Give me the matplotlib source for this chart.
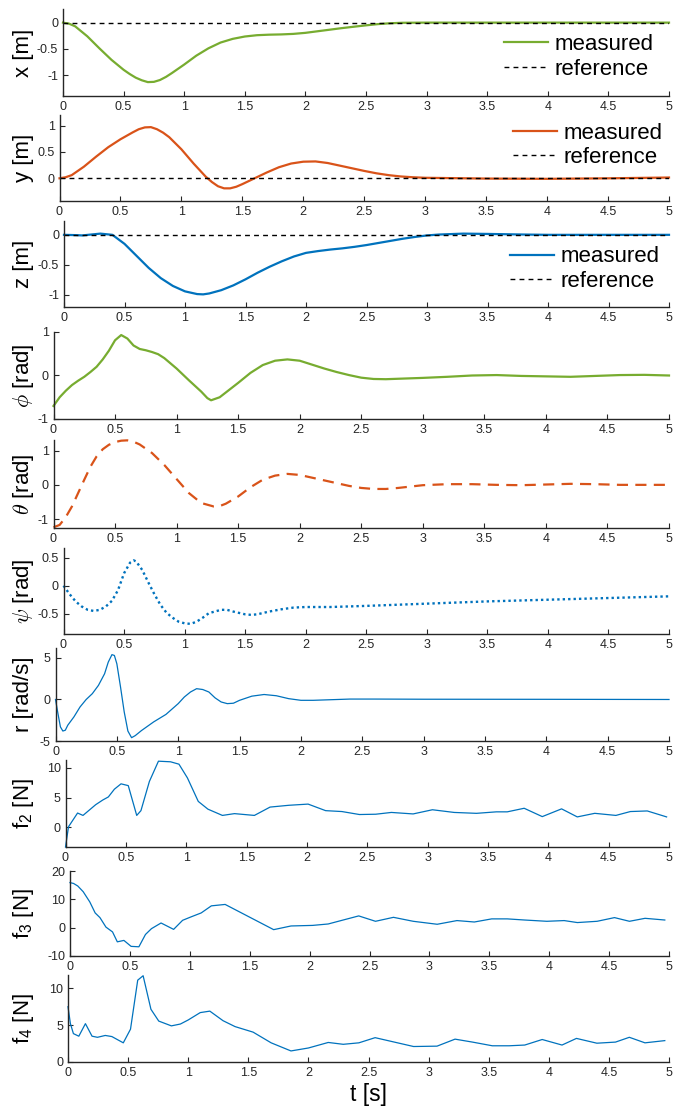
import matplotlib
matplotlib.use("Agg")
import matplotlib.pyplot as plt
import matplotlib.transforms as mtransforms
from matplotlib.ticker import FormatStrFormatter, MultipleLocator

plt.rcParams["font.family"] = ["Liberation Sans", "DejaVu Sans"]
plt.rcParams["axes.unicode_minus"] = False
plt.rcParams["mathtext.fontset"] = "custom"
plt.rcParams["mathtext.rm"] = "Liberation Sans"
plt.rcParams["mathtext.it"] = "Liberation Sans:italic"

GREEN = "#77AC30"
ORANGE = "#D95319"
BLUE = "#0072BD"
AX_COLOR = "#262626"

# reference trajectories (all zero)
ref_t = [0, 5]
ref_val = [0, 0]

# position x [m]
x_t = [0, 0.05, 0.1, 0.2, 0.3, 0.4, 0.5, 0.55, 0.6, 0.65, 0.7, 0.75, 0.8, 0.85,
       0.9, 1.0, 1.1, 1.2, 1.3, 1.4, 1.5, 1.6, 1.7, 1.8, 1.9, 2.0, 2.1, 2.2, 2.3,
       2.4, 2.5, 2.6, 2.7, 2.8, 3.0, 3.5, 4.0, 4.5, 5.0]
x_val = [0, -0.02, -0.07, -0.26, -0.49, -0.71, -0.9, -0.98, -1.05, -1.1, -1.135,
         -1.13, -1.095, -1.035, -0.96, -0.8, -0.63, -0.49, -0.38, -0.31, -0.265,
         -0.24, -0.23, -0.225, -0.215, -0.195, -0.165, -0.135, -0.105, -0.078,
         -0.052, -0.028, -0.012, -0.003, 0.0, 0.0, 0.0, 0.0, 0.0]

# position y [m]
y_t = [0, 0.05, 0.1, 0.2, 0.3, 0.4, 0.5, 0.6, 0.65, 0.7, 0.75, 0.8, 0.85, 0.9,
       1.0, 1.1, 1.2, 1.25, 1.3, 1.35, 1.4, 1.45, 1.5, 1.6, 1.7, 1.8, 1.9, 2.0,
       2.1, 2.2, 2.3, 2.4, 2.5, 2.6, 2.7, 2.8, 2.9, 3.0, 3.5, 4.0, 4.5, 5.0]
y_val = [0, 0.02, 0.06, 0.22, 0.41, 0.59, 0.74, 0.87, 0.93, 0.965, 0.97, 0.93,
         0.865, 0.78, 0.55, 0.28, 0.03, -0.07, -0.15, -0.19, -0.19, -0.16, -0.11,
         0.0, 0.11, 0.21, 0.28, 0.315, 0.32, 0.29, 0.24, 0.19, 0.14, 0.095, 0.06,
         0.035, 0.02, 0.01, -0.005, -0.01, 0.0, 0.015]

# position z [m]
z_t = [0, 0.1, 0.15, 0.2, 0.3, 0.4, 0.5, 0.6, 0.7, 0.8, 0.9, 1.0, 1.1, 1.15,
       1.2, 1.3, 1.4, 1.5, 1.6, 1.7, 1.8, 1.9, 2.0, 2.1, 2.2, 2.3, 2.4, 2.5, 2.6,
       2.7, 2.8, 2.9, 3.0, 3.1, 3.3, 3.5, 3.8, 4.0, 5.0]
z_val = [0, -0.005, -0.01, 0.0, 0.02, 0.0, -0.15, -0.35, -0.55, -0.72, -0.85,
         -0.94, -0.985, -0.99, -0.975, -0.92, -0.84, -0.74, -0.63, -0.53, -0.44,
         -0.36, -0.3, -0.27, -0.245, -0.225, -0.2, -0.17, -0.135, -0.1, -0.065,
         -0.035, -0.01, 0.005, 0.02, 0.015, 0.005, 0.0, 0.0]

# roll phi [rad]
phi_t = [0, 0.05, 0.1, 0.15, 0.2, 0.25, 0.3, 0.35, 0.4, 0.45, 0.5, 0.55, 0.6,
         0.65, 0.7, 0.75, 0.8, 0.85, 0.9, 1.0, 1.1, 1.2, 1.25, 1.28, 1.35, 1.4,
         1.5, 1.6, 1.7, 1.8, 1.9, 2.0, 2.1, 2.2, 2.3, 2.4, 2.5, 2.6, 2.7, 2.8,
         3.0, 3.2, 3.4, 3.6, 3.8, 4.0, 4.2, 4.4, 4.6, 4.8, 5.0]
phi_val = [-0.7, -0.5, -0.35, -0.22, -0.12, -0.03, 0.08, 0.2, 0.37, 0.57, 0.81,
           0.93, 0.85, 0.69, 0.61, 0.58, 0.54, 0.49, 0.4, 0.16, -0.11, -0.37,
           -0.52, -0.57, -0.5, -0.39, -0.17, 0.06, 0.24, 0.34, 0.37, 0.34, 0.25,
           0.16, 0.08, 0.01, -0.05, -0.08, -0.085, -0.075, -0.055, -0.03, 0.0,
           0.01, -0.01, -0.02, -0.03, -0.01, 0.01, 0.015, 0.0]

# pitch theta [rad]
theta_t = [0, 0.05, 0.1, 0.15, 0.2, 0.25, 0.3, 0.35, 0.4, 0.45, 0.5, 0.55, 0.6,
           0.65, 0.7, 0.8, 0.9, 1.0, 1.1, 1.2, 1.3, 1.35, 1.4, 1.5, 1.6, 1.7,
           1.8, 1.9, 2.0, 2.1, 2.2, 2.3, 2.4, 2.5, 2.6, 2.7, 2.8, 2.9, 3.0, 3.2,
           3.4, 3.6, 3.8, 4.0, 4.2, 4.4, 4.6, 4.8, 5.0]
theta_val = [-1.24, -1.17, -0.94, -0.63, -0.24, 0.15, 0.53, 0.83, 1.04, 1.17,
             1.25, 1.29, 1.3, 1.26, 1.18, 0.93, 0.58, 0.17, -0.24, -0.53, -0.63,
             -0.62, -0.55, -0.34, -0.07, 0.15, 0.27, 0.32, 0.29, 0.21, 0.13,
             0.05, -0.03, -0.09, -0.12, -0.12, -0.09, -0.05, -0.01, 0.02, 0.02,
             0.0, -0.01, 0.01, 0.03, 0.02, 0.0, 0.0, 0.0]

# yaw psi [rad]
psi_t = [0, 0.05, 0.1, 0.15, 0.2, 0.25, 0.3, 0.35, 0.4, 0.45, 0.5, 0.55, 0.58,
         0.6, 0.65, 0.7, 0.75, 0.8, 0.85, 0.9, 0.95, 1.0, 1.05, 1.1, 1.15, 1.2,
         1.3, 1.35, 1.4, 1.5, 1.55, 1.6, 1.7, 1.8, 1.9, 2.0, 2.2, 2.5, 3.0, 3.5,
         4.0, 4.5, 5.0]
psi_val = [0, -0.15, -0.28, -0.37, -0.43, -0.45, -0.43, -0.37, -0.27, -0.08,
           0.22, 0.41, 0.45, 0.43, 0.28, 0.06, -0.15, -0.34, -0.48, -0.57, -0.64,
           -0.67, -0.68, -0.64, -0.57, -0.49, -0.43, -0.43, -0.46, -0.51, -0.52,
           -0.51, -0.46, -0.42, -0.39, -0.38, -0.38, -0.36, -0.32, -0.28, -0.25,
           -0.22, -0.19]

# yaw rate r [rad/s]
r_t = [0, 0.02, 0.04, 0.06, 0.08, 0.1, 0.15, 0.2, 0.25, 0.3, 0.35, 0.4, 0.43,
       0.46, 0.48, 0.5, 0.53, 0.56, 0.59, 0.62, 0.65, 0.7, 0.8, 0.9, 1.0, 1.05,
       1.1, 1.15, 1.2, 1.25, 1.3, 1.35, 1.4, 1.45, 1.5, 1.6, 1.7, 1.8, 1.9, 2.0,
       2.1, 2.2, 2.4, 2.6, 3.0, 4.0, 5.0]
r_val = [0, -1.7, -3.3, -3.8, -3.7, -3.1, -2.1, -0.9, 0.0, 0.7, 1.7, 3.1, 4.5,
         5.4, 5.3, 4.3, 1.5, -1.5, -3.8, -4.6, -4.35, -3.75, -2.7, -1.8, -0.5,
         0.3, 0.9, 1.3, 1.2, 0.9, 0.2, -0.3, -0.5, -0.45, -0.1, 0.4, 0.6, 0.45,
         0.1, -0.1, -0.1, -0.05, 0.05, 0.05, 0.03, 0.02, 0.0]

# rotor force f2 [N]
f2_t = [0, 0.025, 0.1, 0.145, 0.25, 0.31, 0.355, 0.405, 0.46, 0.52, 0.59, 0.625,
        0.695, 0.77, 0.87, 0.94, 1.01, 1.1, 1.18, 1.3, 1.4, 1.565, 1.695, 1.85,
        2.01, 2.155, 2.29, 2.435, 2.57, 2.7, 2.88, 3.04, 3.22, 3.405, 3.57, 3.66,
        3.8, 3.95, 4.11, 4.24, 4.385, 4.56, 4.68, 4.82, 4.98]
f2_val = [-3.3, 0.1, 2.4, 2.0, 3.8, 4.6, 5.1, 6.4, 7.3, 7.0, 2.0, 2.8, 7.7, 11.1,
          11.0, 10.6, 8.3, 4.35, 3.05, 2.0, 2.3, 2.0, 3.4, 3.7, 3.9, 2.8, 2.65,
          2.15, 2.2, 2.5, 2.25, 2.95, 2.5, 2.35, 2.6, 2.6, 3.2, 1.8, 3.1, 1.75,
          2.35, 2.0, 2.65, 2.75, 1.75]

# rotor force f3 [N]
f3_t = [0, 0.03, 0.065, 0.11, 0.165, 0.21, 0.25, 0.3, 0.355, 0.395, 0.45, 0.51,
        0.575, 0.63, 0.68, 0.76, 0.865, 0.94, 1.01, 1.095, 1.18, 1.295, 1.7,
        1.845, 2.025, 2.155, 2.28, 2.41, 2.55, 2.7, 2.865, 3.065, 3.23, 3.375,
        3.52, 3.65, 3.795, 3.98, 4.125, 4.235, 4.4, 4.545, 4.67, 4.8, 4.965]
f3_val = [15.9, 15.6, 14.7, 12.7, 9.1, 5.2, 3.55, 0.2, -1.5, -5.0, -4.5, -6.6,
          -6.75, -2.4, -0.35, 1.65, -0.6, 2.6, 3.8, 5.2, 7.7, 8.2, -0.7, 0.6,
          0.8, 1.3, 2.7, 4.15, 2.25, 3.65, 2.25, 1.2, 2.5, 2.0, 3.1, 3.1, 2.7,
          2.25, 2.5, 1.8, 2.25, 3.55, 2.25, 3.3, 2.7]

# rotor force f4 [N]
f4_t = [0, 0.02, 0.045, 0.09, 0.145, 0.2, 0.245, 0.31, 0.365, 0.46, 0.52, 0.58,
        0.625, 0.69, 0.755, 0.86, 0.935, 1.0, 1.1, 1.18, 1.29, 1.39, 1.54, 1.69,
        1.855, 2.0, 2.165, 2.29, 2.42, 2.555, 2.875, 3.07, 3.22, 3.365, 3.53,
        3.67, 3.8, 3.945, 4.11, 4.23, 4.4, 4.555, 4.67, 4.8, 4.965]
f4_val = [7.5, 5.2, 3.85, 3.5, 5.2, 3.5, 3.35, 3.6, 3.45, 2.6, 4.45, 11.1, 11.7,
          7.15, 5.55, 4.9, 5.15, 5.7, 6.7, 6.9, 5.6, 4.8, 4.05, 2.6, 1.5, 1.9,
          2.65, 2.4, 2.6, 3.3, 2.1, 2.15, 3.1, 2.7, 2.2, 2.2, 2.3, 3.05, 2.3, 3.2,
          2.55, 2.7, 3.35, 2.6, 2.9]

# panel layout in pixels: (left, top, bottom) in a 685x1110 canvas
FIG_W, FIG_H = 685, 1110
RIGHT = 669
LABEL_X = 24

panels = [
    dict(t=x_t, v=x_val, color=GREEN, ls="-", lw=1.6, label="x [m]", ylim=(-1.4, 0.26),
         yticks=[-1, -0.5, 0], box=(63, 9, 96), legend=(0.975, 0.45)),
    dict(t=y_t, v=y_val, color=ORANGE, ls="-", lw=1.6, label="y [m]", ylim=(-0.43, 1.2),
         yticks=[0, 0.5, 1], box=(59.5, 115, 201), legend=(0.99, 0.645)),
    dict(t=z_t, v=z_val, color=BLUE, ls="-", lw=1.6, label="z [m]", ylim=(-1.2, 0.23),
         yticks=[-1, -0.5, 0], box=(64, 221, 307), legend=(0.985, 0.44)),
    dict(t=phi_t, v=phi_val, color=GREEN, ls="-", lw=1.6, label=r"$\phi$ [rad]",
         ylim=(-1, 1), yticks=[-1, 0, 1], box=(53.5, 332, 419), math=True),
    dict(t=theta_t, v=theta_val, color=ORANGE, ls=(0, (5, 3.3)), lw=1.6,
         label=r"$\theta$ [rad]", ylim=(-1.26, 1.31), yticks=[-1, 0, 1],
         box=(53.5, 440, 528), math=True),
    dict(t=psi_t, v=psi_val, color=BLUE, ls=(0, (1, 1.3)), lw=1.7,
         label=r"$\psi$ [rad]", ylim=(-0.86, 0.67), yticks=[-0.5, 0, 0.5],
         box=(63.5, 548, 634), math=True),
    dict(t=r_t, v=r_val, color=BLUE, ls="-", lw=0.9, label="r [rad/s]", ylim=(-5, 6.2),
         yticks=[-5, 0, 5], box=(55.5, 648, 741)),
    dict(t=f2_t, v=f2_val, color=BLUE, ls="-", lw=0.9, label=r"f$_2$ [N]",
         ylim=(-3.3, 11.3), yticks=[0, 5, 10], box=(65.5, 760, 847)),
    dict(t=f3_t, v=f3_val, color=BLUE, ls="-", lw=0.9, label=r"f$_3$ [N]",
         ylim=(-10, 20), yticks=[-10, 0, 10, 20], box=(70, 871, 956)),
    dict(t=f4_t, v=f4_val, color=BLUE, ls="-", lw=0.9, label=r"f$_4$ [N]",
         ylim=(0, 11.8), yticks=[0, 5, 10], box=(68, 975, 1062)),
]


def style_axes(ax):
    for side in ("top", "right"):
        ax.spines[side].set_visible(False)
    for side in ("left", "bottom"):
        ax.spines[side].set_color(AX_COLOR)
        ax.spines[side].set_linewidth(1.0)
    ax.tick_params(direction="in", length=3.5, width=0.8, colors=AX_COLOR,
                   labelsize=9, pad=3.5)
    ax.set_xlim(0, 5)
    ax.xaxis.set_major_locator(MultipleLocator(0.5))
    ax.xaxis.set_major_formatter(FormatStrFormatter("%g"))
    ax.yaxis.set_major_formatter(FormatStrFormatter("%g"))


fig = plt.figure(figsize=(FIG_W / 100, FIG_H / 100), dpi=100)

for spec in panels:
    left, top, bottom = spec["box"]
    ax = fig.add_axes([left / FIG_W, 1 - bottom / FIG_H,
                       (RIGHT - left) / FIG_W, (bottom - top) / FIG_H])
    style_axes(ax)
    line, = ax.plot(spec["t"], spec["v"], color=spec["color"], linestyle=spec["ls"],
                    linewidth=spec["lw"], label="measured", clip_on=False)
    if isinstance(spec["ls"], tuple):
        line.set_dash_capstyle("butt")
    if "legend" in spec:
        ax.plot(ref_t, ref_val, color="black", linestyle=(0, (3.5, 3)), linewidth=1.0,
                label="reference")
        ax.legend(loc="center right", bbox_to_anchor=spec["legend"], frameon=False,
                  fontsize=16, handlelength=2.0, handletextpad=0.3, labelspacing=0.15,
                  borderpad=0, borderaxespad=0)
    ax.set_ylim(*spec["ylim"])
    ax.set_yticks(spec["yticks"])
    if spec.get("math"):
        ax.set_ylabel(spec["label"], fontsize=16, math_fontfamily="cm")
    else:
        ax.set_ylabel(spec["label"], fontsize=16)
    ax.yaxis.label.set_va("center")
    ax.yaxis.set_label_coords(
        LABEL_X / FIG_W, 0.5,
        transform=mtransforms.blended_transform_factory(fig.transFigure, ax.transAxes))

ax.set_xlabel("t [s]", fontsize=16.5, labelpad=3)

fig.savefig("out.png", dpi=100)
